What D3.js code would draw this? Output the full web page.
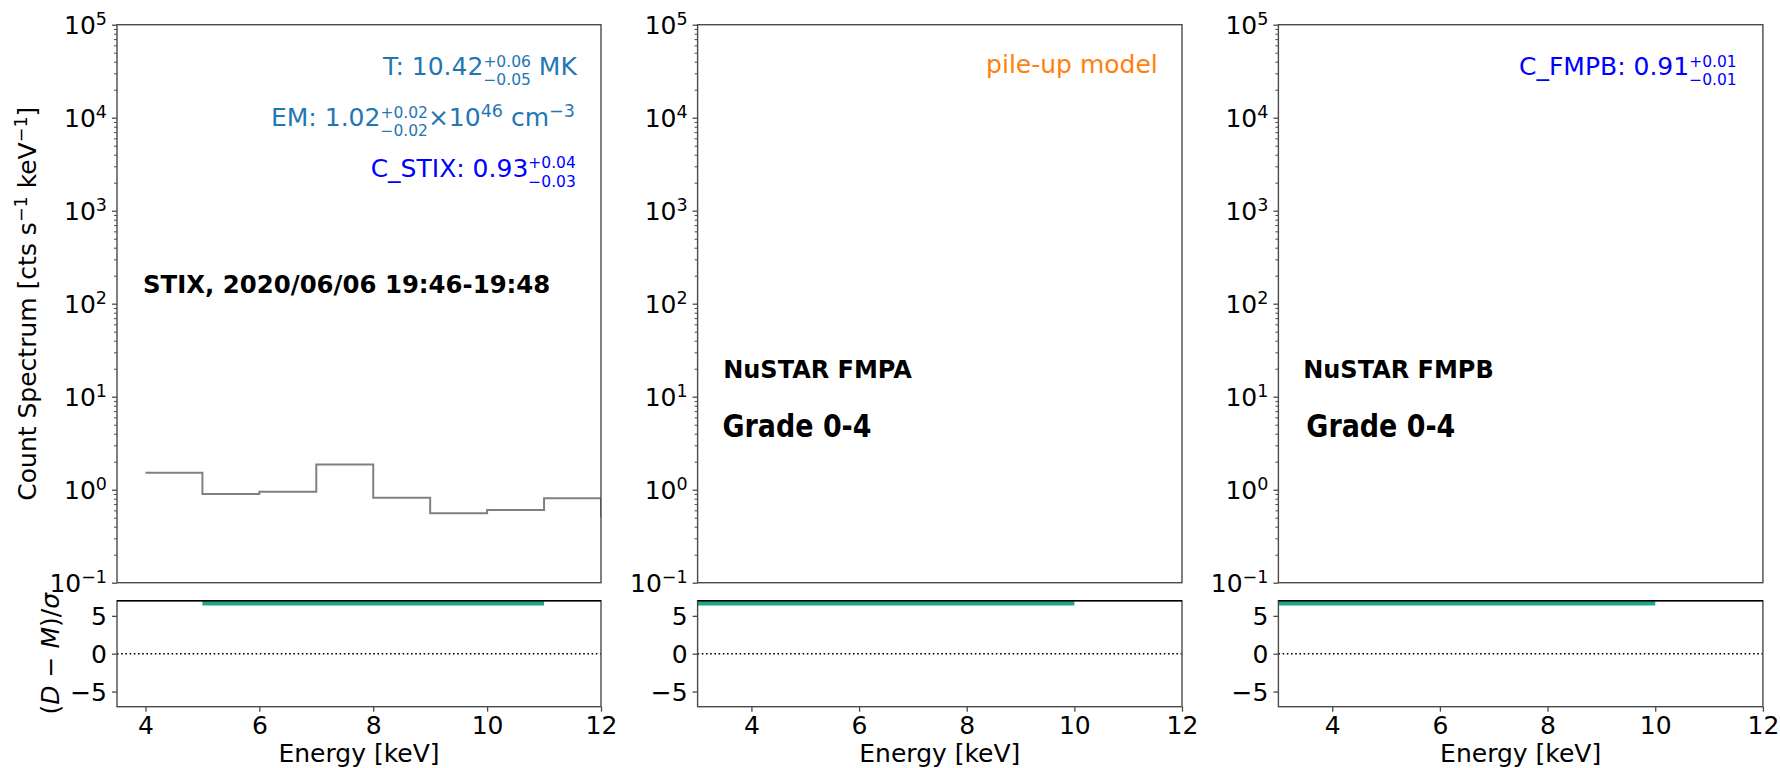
<!DOCTYPE html>
<html><head><meta charset="utf-8">
<script src="https://cdn.jsdelivr.net/npm/d3@7"></script>
<style>
body{margin:0;background:#fff;}
svg text{font-family:"DejaVu Sans",sans-serif;white-space:pre;}
</style></head><body>
<svg id="chart" width="1780" height="768"></svg>
<script>
// ---------------- data ----------------
const stixEdges   = [4, 5, 6, 7, 8, 9, 10, 11, 12, 13];
const stixCounts  = [1.52, 0.90, 0.95, 1.87, 0.82, 0.557, 0.605, 0.81, 0.52];
const stixResidEdges = [5, 6, 7, 8, 9, 10, 11];
const stixResidLow   = [6.35, 6.35, 6.35, 6.35, 6.35, 6.35];
const stixResidHigh  = [7, 7, 7, 7, 7, 7];
const fmpaResidEdges = [3, 4, 5, 6, 7, 8, 9, 10];
const fmpaResidLow   = [6.35, 6.35, 6.35, 6.35, 6.35, 6.35, 6.35];
const fmpaResidHigh  = [7, 7, 7, 7, 7, 7, 7];
const fmpbResidEdges = [3, 4, 5, 6, 7, 8, 9, 10];
const fmpbResidLow   = [6.35, 6.35, 6.35, 6.35, 6.35, 6.35, 6.35];
const fmpbResidHigh  = [7, 7, 7, 7, 7, 7, 7];
const xDomainStix   = [3.5, 12];
const xDomainNustar = [3, 12];
const countDomain   = [0.1, 1e5];
const residDomain   = [-7, 7];
const energyTicks   = [4, 6, 8, 10, 12];
const residTicks    = [-5, 0, 5];
const decadeExps    = [-1, 0, 1, 2, 3, 4, 5];
const minorMults    = [2, 3, 4, 5, 6, 7, 8, 9];

// ---------------- layout ----------------
const FS = 25, SS = 17.5, SC = 15.5;
const mainTop = 24.7, mainBot = 582.7, resTop = 600.7, resBot = 706.7;
const spineCol = "#4a4a4a";
const svg = d3.select("#chart");
const defs = svg.append("defs");

const panels = [
  {left:117,   right:601,    xDomain:xDomainStix,   step:{edges:stixEdges, vals:stixCounts},
   resid:{edges:stixResidEdges, lo:stixResidLow, hi:stixResidHigh}},
  {left:697.6, right:1182,   xDomain:xDomainNustar, step:null,
   resid:{edges:fmpaResidEdges, lo:fmpaResidLow, hi:fmpaResidHigh}},
  {left:1278.4,right:1762.9, xDomain:xDomainNustar, step:null,
   resid:{edges:fmpbResidEdges, lo:fmpbResidLow, hi:fmpbResidHigh}}
];

function supLabel(sel, base, sup, shift){
  sel.append("tspan").text(base);
  sel.append("tspan").attr("font-size", SS).attr("dy", -shift).text(sup);
}

const meas = svg.append("text").attr("x", -1000).attr("y", -1000);
function measure(str, size){
  meas.attr("font-size", size).text(str);
  return meas.node().getComputedTextLength();
}

// one text element per annotation, runs placed by measured x
function rich(g, x, y, runs, color, anchor){
  const items = [];
  let cx = 0;
  runs.forEach(r => {
    if (r.t !== undefined){
      items.push({s:r.t, x:cx, y:0, size:FS});
      cx += measure(r.t, FS);
    } else {
      let w = 0;
      if (r.sup !== undefined){
        const sz = r.size || SC;
        items.push({s:r.sup, x:cx, y:-(r.up || 8.5), size:sz});
        w = Math.max(w, measure(r.sup, sz));
      }
      if (r.sub !== undefined){
        items.push({s:r.sub, x:cx, y:(r.down || 10), size:SC});
        w = Math.max(w, measure(r.sub, SC));
      }
      cx += w;
    }
  });
  const x0 = anchor === "end" ? x - cx : x;
  const t = g.append("text").attr("fill", color);
  items.forEach(it => {
    t.append("tspan").attr("x", x0 + it.x).attr("y", y + it.y).attr("font-size", it.size).text(it.s);
  });
  return t;
}

panels.forEach((p, i) => {
  const x = d3.scaleLinear().domain(p.xDomain).range([p.left, p.right]);
  const y = d3.scaleLog().domain(countDomain).range([mainBot, mainTop]);
  const yr = d3.scaleLinear().domain(residDomain).range([resBot, resTop]);
  const g = svg.append("g");

  const cid = "clip" + i;
  defs.append("clipPath").attr("id", cid).append("rect")
    .attr("x", p.left).attr("y", mainTop).attr("width", p.right - p.left).attr("height", mainBot - mainTop);

  if (p.step){
    const pts = p.step.vals.map((v, k) => [p.step.edges[k], v]);
    pts.push([p.step.edges[p.step.edges.length - 1], p.step.vals[p.step.vals.length - 1]]);
    g.append("path").attr("clip-path", `url(#${cid})`)
      .attr("d", d3.line().x(d => x(d[0])).y(d => y(d[1])).curve(d3.curveStepAfter)(pts))
      .attr("fill", "none").attr("stroke", "#808080").attr("stroke-width", 2);
  }

  g.append("rect").attr("x", p.left).attr("y", mainTop).attr("width", p.right - p.left)
    .attr("height", mainBot - mainTop).attr("fill", "none").attr("stroke", spineCol).attr("stroke-width", 1.4);

  const major = decadeExps.map(e => Math.pow(10, e));
  const minor = [];
  decadeExps.slice(0, -1).forEach(e => minorMults.forEach(m => minor.push(m * Math.pow(10, e))));
  const ay = g.append("g").attr("transform", `translate(${p.left},0)`)
    .call(d3.axisLeft(y).tickValues(major).tickSize(5).tickFormat(""));
  ay.select(".domain").remove();
  ay.selectAll(".tick line").attr("stroke", spineCol).attr("stroke-width", 1.3);
  ay.selectAll(".tick").each(function(d){
    const e = Math.round(Math.log10(d));
    const t = d3.select(this).append("text").attr("x", -10).attr("dy", "0.36em")
      .attr("text-anchor", "end").attr("font-size", FS).attr("fill", "#000");
    supLabel(t, "10", e < 0 ? "\u2212" + (-e) : String(e), 9);
  });
  const am = g.append("g").attr("transform", `translate(${p.left},0)`)
    .call(d3.axisLeft(y).tickValues(minor).tickSize(3).tickFormat(""));
  am.select(".domain").remove();
  am.selectAll(".tick line").attr("stroke", spineCol).attr("stroke-width", 1);

  const pts = p.resid.lo.map((v, k) => ({x: p.resid.edges[k], lo: v, hi: p.resid.hi[k]}));
  const last = pts[pts.length - 1];
  pts.push({x: p.resid.edges[p.resid.edges.length - 1], lo: last.lo, hi: last.hi});
  g.append("path")
    .attr("d", d3.area().x(d => x(d.x)).y0(d => yr(d.lo)).y1(d => yr(d.hi)).curve(d3.curveStepAfter)(pts))
    .attr("fill", "#1fa78b");

  g.append("line").attr("x1", p.left).attr("x2", p.right).attr("y1", yr(0)).attr("y2", yr(0))
    .attr("stroke", "#000").attr("stroke-width", 1.6).attr("stroke-dasharray", "1.6,2.6");

  g.append("rect").attr("x", p.left).attr("y", resTop).attr("width", p.right - p.left)
    .attr("height", resBot - resTop).attr("fill", "none").attr("stroke", spineCol).attr("stroke-width", 1.4);
  g.append("line").attr("x1", p.left).attr("x2", p.right).attr("y1", resTop).attr("y2", resTop)
    .attr("stroke", "#000").attr("stroke-width", 1.6);

  const ax = g.append("g").attr("transform", `translate(0,${resBot})`)
    .call(d3.axisBottom(x).tickValues(energyTicks).tickSize(5).tickPadding(5).tickFormat(d3.format("d")));
  ax.select(".domain").remove();
  ax.selectAll(".tick line").attr("stroke", spineCol).attr("stroke-width", 1.3);
  ax.selectAll(".tick text").attr("font-size", FS).attr("fill", "#000").attr("font-family", "DejaVu Sans");

  const ar = g.append("g").attr("transform", `translate(${p.left},0)`)
    .call(d3.axisLeft(yr).tickValues(residTicks).tickSize(5).tickPadding(5)
      .tickFormat(d => d < 0 ? "\u2212" + (-d) : String(d)));
  ar.select(".domain").remove();
  ar.selectAll(".tick line").attr("stroke", spineCol).attr("stroke-width", 1.3);
  ar.selectAll(".tick text").attr("font-size", FS).attr("fill", "#000").attr("dy", "0.36em")
    .attr("font-family", "DejaVu Sans");

  g.append("text").attr("x", (p.left + p.right) / 2).attr("y", 762).attr("text-anchor", "middle")
    .attr("font-size", FS).attr("fill", "#000").text("Energy [keV]");
  p.g = g;
});

// ---------------- annotations ----------------
const g0 = panels[0].g, g1 = panels[1].g, g2 = panels[2].g;
const rx0 = panels[0].left + 0.95 * (panels[0].right - panels[0].left);
const rx1 = panels[1].left + 0.95 * (panels[1].right - panels[1].left);
const rx2 = panels[2].left + 0.95 * (panels[2].right - panels[2].left);

rich(g0, rx0, 75, [{t:"T: 10.42"}, {sup:"+0.06", sub:"\u22120.05"}, {t:" MK"}], "#1f77b4", "end");
rich(g0, rx0 - 2, 126, [{t:"EM: 1.02"}, {sup:"+0.02", sub:"\u22120.02"}, {t:"\u00d710"}, {sup:"46", up:9, size:SS},
  {t:" cm"}, {sup:"\u22123", up:9, size:SS}], "#1f77b4", "end");
rich(g0, rx0 - 1, 176.7, [{t:"C_STIX: 0.93"}, {sup:"+0.04", sub:"\u22120.03"}], "#0000ff", "end");
g0.append("text").attr("x", 143).attr("y", 293.3).attr("font-size", 24.4).attr("font-weight", "bold")
  .attr("fill", "#000").text("STIX, 2020/06/06 19:46-19:48");

g1.append("text").attr("x", rx1).attr("y", 73).attr("text-anchor", "end").attr("font-size", FS)
  .attr("fill", "#ff7f0e").text("pile-up model");
rich(g2, rx2 - 2, 75, [{t:"C_FMPB: 0.91"}, {sup:"+0.01", sub:"\u22120.01"}], "#0000ff", "end");

[[g1, 723.2, "NuSTAR FMPA", 722.5], [g2, 1303.2, "NuSTAR FMPB", 1306.3]].forEach(([g, xl, name, xg]) => {
  g.append("text").attr("x", xl).attr("y", 378.3).attr("font-size", 24).attr("font-weight", "bold")
    .attr("fill", "#000").text(name);
  g.append("text").attr("x", xg).attr("y", 436.7).attr("font-size", 32).attr("font-weight", "bold")
    .attr("font-stretch", "condensed").attr("textLength", 149).attr("lengthAdjust", "spacingAndGlyphs")
    .attr("fill", "#000").text("Grade 0-4");
});

meas.remove();

// y labels
const yl = svg.append("text").attr("transform", `translate(36,${(mainTop + mainBot) / 2}) rotate(-90)`)
  .attr("text-anchor", "middle").attr("font-size", FS).attr("fill", "#000");
yl.append("tspan").text("Count Spectrum [cts s");
yl.append("tspan").attr("font-size", SS).attr("dy", -9).text("\u22121");
yl.append("tspan").attr("dy", 9).text(" keV");
yl.append("tspan").attr("font-size", SS).attr("dy", -9).text("\u22121");
yl.append("tspan").attr("dy", 9).text("]");

const rl = svg.append("text").attr("transform", `translate(58.5,${(resTop + resBot) / 2}) rotate(-90)`)
  .attr("text-anchor", "middle").attr("font-size", FS).attr("fill", "#000");
rl.append("tspan").text("(");
rl.append("tspan").attr("font-style", "italic").text("D");
rl.append("tspan").text(" \u2212 ");
rl.append("tspan").attr("font-style", "italic").text("M");
rl.append("tspan").text(")/");
rl.append("tspan").attr("font-style", "italic").text("\u03c3");
</script>
</body></html>
